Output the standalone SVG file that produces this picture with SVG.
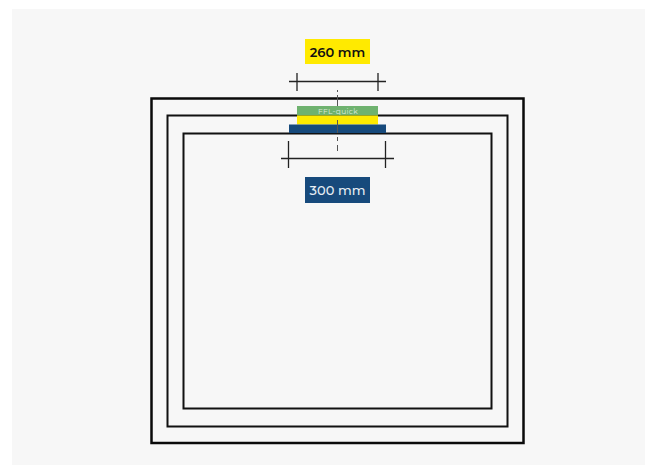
<svg xmlns="http://www.w3.org/2000/svg" width="657" height="475" viewBox="0 0 657 475">
<style>
.wall{fill:none;stroke:#111;stroke-width:2}
.dim{stroke:#222;stroke-width:1.3;fill:none}
.lbl{font-family:"Montserrat","Inter","Liberation Sans",sans-serif;font-weight:600;font-size:13px;text-anchor:middle}
</style>
<rect width="657" height="475" fill="#fff"/>
<rect x="12" y="9" width="633" height="456" fill="#f7f7f7"/>
<g id="walls">
<rect class="wall" x="151.500" y="98.500" width="372" height="344.500" style="stroke-width:2.500;stroke:#0a0a0a"/>
<rect class="wall" x="167.500" y="115.500" width="340" height="311"/>
<rect class="wall" x="183.500" y="133.500" width="308" height="275"/>
</g>
<g id="ffl-quick">
<rect x="297" y="106" width="81" height="9.500" fill="#6fb26f"/>
<text x="338" y="113.500" font-family="Montserrat,Inter,'Liberation Sans',sans-serif" font-size="7.500" letter-spacing="0.300" fill="#dcebdc" text-anchor="middle">FFL-quick</text>
</g>
<rect id="yellow-layer" x="297" y="115.500" width="81" height="9" fill="#ffea00"/>
<rect id="blue-layer" x="289" y="124.500" width="97" height="8.500" fill="#174a7c"/>
<g id="connectors">
<path class="dim" d="M289 81.500H386M297 73V91M378 73V91"/>
<path class="dim" d="M281 158.500H394M288.500 141V168M385.500 141V168"/>
<path d="M337.500 90V92M337.500 95V106M337.500 120V133M337.500 137V141M337.500 145V151" fill="none" stroke="#555" stroke-width="1"/>
</g>
<g id="label-260">
<rect x="305" y="39" width="65" height="25" fill="#ffea00"/>
<text class="lbl" x="337.500" y="56.500" fill="#111">260 mm</text>
</g>
<g id="label-300">
<rect x="305" y="177" width="65" height="26" fill="#174a7c"/>
<text class="lbl" x="337.500" y="195" fill="#e6edf3" style="font-weight:500">300 mm</text>
</g>
</svg>
